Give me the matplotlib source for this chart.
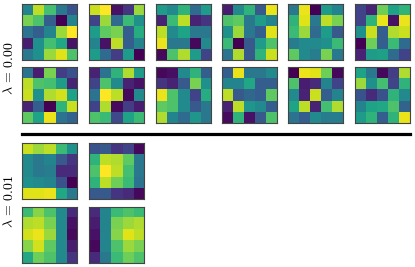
import matplotlib
matplotlib.use("Agg")
import matplotlib.pyplot as plt
from matplotlib.lines import Line2D
import numpy as np

plt.rcParams["mathtext.fontset"] = "cm"

# lambda = 0.00, 12 filters (2 rows x 6), 5x5 each
filters_l000 = [
    [[0.45, 0.90, 0.70, 0.40, 0.25],
     [0.80, 0.72, 0.30, 0.00, 0.45],
     [0.38, 0.30, 0.45, 0.85, 1.00],
     [0.08, 0.50, 0.70, 0.60, 0.05],
     [0.40, 0.50, 0.85, 0.95, 0.72]],
    [[0.92, 1.00, 0.05, 0.15, 0.85],
     [0.20, 0.85, 0.35, 0.68, 0.50],
     [0.55, 0.75, 0.80, 0.30, 0.62],
     [0.45, 0.05, 0.90, 0.30, 0.45],
     [0.55, 0.35, 0.18, 0.55, 0.00]],
    [[0.55, 0.48, 0.65, 0.35, 0.55],
     [0.10, 0.68, 0.90, 0.10, 0.15],
     [0.90, 0.48, 0.58, 0.40, 0.40],
     [0.97, 0.40, 0.40, 0.02, 0.48],
     [0.02, 0.72, 0.88, 0.55, 0.20]],
    [[0.08, 0.48, 0.65, 0.28, 0.97],
     [0.72, 0.75, 0.40, 0.55, 0.45],
     [0.50, 0.85, 0.40, 0.30, 0.95],
     [0.68, 0.00, 0.28, 0.55, 0.72],
     [0.38, 0.88, 0.28, 0.65, 0.92]],
    [[0.40, 0.97, 0.00, 0.55, 0.45],
     [0.65, 0.95, 0.40, 0.90, 0.80],
     [0.68, 0.85, 0.35, 0.55, 0.28],
     [0.42, 0.48, 0.48, 0.50, 0.68],
     [0.75, 0.48, 0.42, 0.80, 0.40]],
    [[0.20, 0.10, 0.78, 0.58, 0.65],
     [0.20, 0.65, 0.97, 0.05, 0.97],
     [0.50, 0.92, 0.30, 0.88, 0.92],
     [0.00, 0.78, 0.30, 0.68, 0.35],
     [0.10, 0.55, 0.57, 0.35, 0.20]],
    [[0.38, 0.08, 0.80, 0.18, 0.25],
     [0.90, 0.72, 0.70, 0.55, 0.10],
     [0.92, 0.50, 0.88, 0.93, 0.58],
     [0.10, 0.30, 0.00, 0.65, 0.92],
     [0.75, 0.58, 0.97, 0.38, 0.32]],
    [[0.10, 0.38, 0.65, 0.88, 0.55],
     [0.20, 0.72, 0.48, 0.10, 0.05],
     [0.38, 1.00, 0.90, 0.02, 0.48],
     [0.20, 0.88, 0.03, 0.18, 0.08],
     [0.72, 0.68, 0.22, 0.58, 0.68]],
    [[0.02, 0.04, 0.48, 0.65, 0.30],
     [0.15, 0.10, 0.28, 0.80, 0.50],
     [0.97, 0.72, 0.48, 0.20, 0.62],
     [0.75, 0.72, 0.48, 0.28, 0.40],
     [0.88, 0.45, 0.35, 0.52, 0.40]],
    [[0.30, 0.97, 0.40, 0.40, 0.48],
     [0.45, 0.45, 0.60, 0.30, 0.30],
     [0.90, 0.28, 0.33, 0.30, 0.75],
     [0.10, 0.90, 0.52, 0.48, 0.30],
     [0.03, 0.65, 0.05, 0.28, 0.72]],
    [[0.00, 0.97, 0.95, 0.78, 0.02],
     [0.72, 0.08, 0.12, 0.45, 0.20],
     [0.48, 0.10, 0.92, 0.30, 0.45],
     [0.58, 0.90, 0.10, 0.70, 0.88],
     [0.38, 0.30, 0.48, 0.42, 0.42]],
    [[0.58, 0.40, 0.02, 0.18, 0.88],
     [0.85, 0.50, 0.70, 0.20, 0.65],
     [0.25, 0.12, 0.25, 0.65, 0.48],
     [0.45, 0.58, 0.60, 0.72, 0.32],
     [0.55, 0.65, 0.30, 0.65, 0.97]],
]

# lambda = 0.01, 4 filters (2 rows x 2)
filters_l001 = [
    [[0.92, 0.85, 0.90, 0.68, 0.50],
     [0.48, 0.40, 0.45, 0.28, 0.15],
     [0.48, 0.40, 0.42, 0.12, 0.12],
     [0.50, 0.48, 0.45, 0.25, 0.00],
     [0.95, 0.95, 0.97, 0.60, 0.40]],
    [[0.25, 0.28, 0.15, 0.20, 0.02],
     [0.65, 0.90, 0.88, 0.75, 0.40],
     [0.72, 1.00, 0.90, 0.70, 0.40],
     [0.65, 0.90, 0.78, 0.68, 0.38],
     [0.28, 0.28, 0.15, 0.12, 0.02]],
    [[0.68, 0.82, 0.72, 0.48, 0.12],
     [0.88, 0.90, 0.80, 0.48, 0.05],
     [0.93, 0.97, 0.85, 0.48, 0.02],
     [0.82, 0.93, 0.75, 0.48, 0.08],
     [0.60, 0.78, 0.72, 0.48, 0.15]],
    [[0.12, 0.45, 0.68, 0.72, 0.68],
     [0.08, 0.45, 0.80, 0.85, 0.88],
     [0.05, 0.45, 0.82, 0.95, 0.90],
     [0.02, 0.45, 0.72, 0.85, 0.80],
     [0.12, 0.40, 0.68, 0.78, 0.72]],
]

labels = [r"$\lambda\,=\,0.00$", r"$\lambda\,=\,0.01$"]

W, H = 415, 267
fig = plt.figure(figsize=(W / 100, H / 100), dpi=100)

col_x = [22, 89, 156, 222, 288, 355]
pw, ph = 55, 56


def panel(x0, y0, data):
    ax = fig.add_axes([x0 / W, 1 - (y0 + ph) / H, pw / W, ph / H])
    ax.imshow(np.array(data), cmap="viridis", vmin=0, vmax=1,
              interpolation="nearest", aspect="auto")
    ax.set_xticks([])
    ax.set_yticks([])
    for s in ax.spines.values():
        s.set_color("#444444")
        s.set_linewidth(0.8)


top_rows = [4, 67]
for i, d in enumerate(filters_l000):
    panel(col_x[i % 6], top_rows[i // 6], d)

bot_rows = [143, 207]
for i, d in enumerate(filters_l001):
    panel(col_x[i % 2], bot_rows[i // 2], d)

# separator between the two lambda groups
fig.add_artist(Line2D([22 / W, 410 / W], [1 - 133.7 / H, 1 - 133.7 / H],
                      transform=fig.transFigure, color="black", lw=2.3))

fig.text(9.5 / W, 1 - 68 / H, labels[0], rotation=90, ha="center", va="center", fontsize=10)
fig.text(9.5 / W, 1 - 201 / H, labels[1], rotation=90, ha="center", va="center", fontsize=10)

fig.savefig("out.png", dpi=100)
